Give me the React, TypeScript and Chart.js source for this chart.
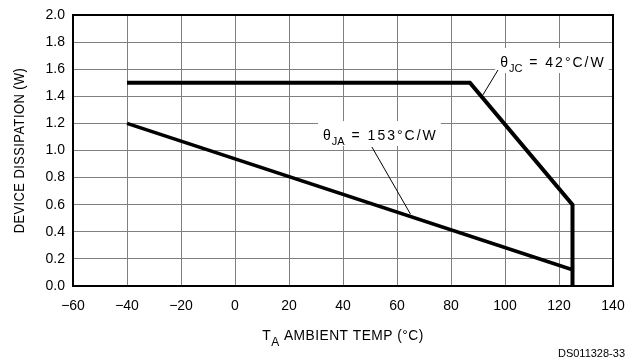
import React, { useEffect, useRef } from 'react';
import { Chart, registerables } from 'chart.js';

Chart.register(...registerables);

// ---- Data ----
const jcTemp = [-40, 87, 125, 125];
const jcPower = [1.5, 1.5, 0.6, 0];
const jaTemp = [-40, 125];
const jaPower = [1.2, 0.12];

const xTickValues = [-60, -40, -20, 0, 20, 40, 60, 80, 100, 120, 140];
const yTickValues = [0, 0.2, 0.4, 0.6, 0.8, 1.0, 1.2, 1.4, 1.6, 1.8, 2.0];

const yTitle = 'DEVICE DISSIPATION (W)';
const xTitleMain = 'T';
const xTitleSub = 'A';
const xTitleRest = ' AMBIENT TEMP (°C)';
const footnote = 'DS011328-33';

// annotation labels: text anchor (data coords) and leader line (data coords)
const jcLabel = { sub: 'JC', rest: ' = 42°C/W', x: 98.2, y: 1.616, from: [97.4, 1.594], to: [91.5, 1.4] };
const jaLabel = { sub: 'JA', rest: ' = 153°C/W', x: 32.6, y: 1.077, from: [50.7, 1.026], to: [65.0, 0.53] };
const annotations = [jcLabel, jaLabel];

const FONT = '"Liberation Sans", Arial, Helvetica, sans-serif';

function fmtTick(v: number, digits: number) {
  const s = Math.abs(v).toFixed(digits);
  return v < 0 ? '\u2212' + s : s;
}

function labelWidth(ctx: CanvasRenderingContext2D, a: any) {
  (ctx as any).letterSpacing = '0px';
  ctx.font = `14px ${FONT}`;
  const w1 = ctx.measureText('θ').width + 1;
  ctx.font = `11px ${FONT}`;
  const w2 = ctx.measureText(a.sub).width + 1;
  (ctx as any).letterSpacing = '2px';
  ctx.font = `14px ${FONT}`;
  const w3 = ctx.measureText(a.rest).width;
  (ctx as any).letterSpacing = '0px';
  return [w1, w2, w3];
}

const chartPlugin = {
  id: 'deco',
  beforeDatasetsDraw(chart: any) {
    const ctx: CanvasRenderingContext2D = chart.ctx;
    const xs = chart.scales.x;
    const ys = chart.scales.y;
    const area = chart.chartArea;
    ctx.save();
    // frame
    ctx.strokeStyle = '#000';
    ctx.lineWidth = 2;
    ctx.strokeRect(Math.round(area.left), Math.round(area.top), Math.round(area.right - area.left), Math.round(area.bottom - area.top));
    // white boxes behind annotation text
    for (const a of annotations) {
      const px = xs.getPixelForValue(a.x);
      const py = ys.getPixelForValue(a.y);
      const [w1, w2, w3] = labelWidth(ctx, a);
      const w = w1 + w2 + w3;
      ctx.fillStyle = '#fff';
      ctx.fillRect(px - 5, py - 19, w + 8, 25);
    }
    ctx.restore();
  },
  afterDatasetsDraw(chart: any) {
    const ctx: CanvasRenderingContext2D = chart.ctx;
    const xs = chart.scales.x;
    const ys = chart.scales.y;
    const area = chart.chartArea;
    ctx.save();
    ctx.fillStyle = '#000';
    ctx.strokeStyle = '#000';
    ctx.textBaseline = 'alphabetic';
    ctx.textAlign = 'left';
    for (const a of annotations) {
      const px = xs.getPixelForValue(a.x);
      const py = ys.getPixelForValue(a.y);
      const [w1, w2] = labelWidth(ctx, a);
      (ctx as any).letterSpacing = '0px';
      ctx.font = `14px ${FONT}`;
      ctx.fillText('θ', px, py);
      ctx.font = `11px ${FONT}`;
      ctx.fillText(a.sub, px + w1, py + 5);
      (ctx as any).letterSpacing = '2px';
      ctx.font = `14px ${FONT}`;
      ctx.fillText(a.rest, px + w1 + w2, py);
      (ctx as any).letterSpacing = '0px';
      // leader
      ctx.lineWidth = 1;
      ctx.beginPath();
      ctx.moveTo(xs.getPixelForValue(a.from[0]), ys.getPixelForValue(a.from[1]));
      ctx.lineTo(xs.getPixelForValue(a.to[0]), ys.getPixelForValue(a.to[1]));
      ctx.stroke();
    }

    const sx = 0.92;
    // y title (rotated)
    ctx.save();
    ctx.font = `14px ${FONT}`;
    (ctx as any).letterSpacing = '0.5px';
    const yw = ctx.measureText(yTitle).width * sx;
    ctx.translate(20, (area.top + area.bottom) / 2);
    ctx.rotate(-Math.PI / 2);
    ctx.scale(sx, 1);
    ctx.textBaseline = 'middle';
    ctx.fillText(yTitle, -yw / 2 / sx, 0);
    ctx.restore();

    // x title
    ctx.save();
    (ctx as any).letterSpacing = '0.5px';
    ctx.font = `15px ${FONT}`;
    const wT = ctx.measureText(xTitleMain).width;
    const wR = ctx.measureText(xTitleRest).width;
    ctx.font = `13px ${FONT}`;
    const wA = ctx.measureText(xTitleSub).width;
    const total = (wT + wA + wR) * sx;
    const cx = (area.left + area.right) / 2;
    ctx.translate(cx - total / 2, 340);
    ctx.scale(sx, 1);
    ctx.font = `15px ${FONT}`;
    ctx.fillText(xTitleMain, 0, 0);
    ctx.font = `13px ${FONT}`;
    ctx.fillText(xTitleSub, wT, 6);
    ctx.font = `15px ${FONT}`;
    ctx.fillText(xTitleRest, wT + wA, 0);
    ctx.restore();

    // footnote
    (ctx as any).letterSpacing = '0px';
    ctx.font = `11px Arial, ${FONT}`;
    ctx.textAlign = 'right';
    ctx.fillText(footnote, 625, 357);
    ctx.restore();
  },
};

export default function App() {
  const ref = useRef<HTMLCanvasElement | null>(null);
  useEffect(() => {
    if (!ref.current) return;
    const tickFont = { family: FONT, size: 14 };
    const chart = new Chart(ref.current, {
      type: 'scatter',
      data: {
        datasets: [
          {
            label: 'θJC = 42°C/W',
            data: jcTemp.map((x, i) => ({ x, y: jcPower[i] })),
            showLine: true,
            borderColor: '#000',
            backgroundColor: '#000',
            borderWidth: 4,
            pointRadius: 0,
            borderJoinStyle: 'miter',
            borderCapStyle: 'butt',
            tension: 0,
            fill: false,
          },
          {
            label: 'θJA = 153°C/W',
            data: jaTemp.map((x, i) => ({ x, y: jaPower[i] })),
            showLine: true,
            borderColor: '#000',
            backgroundColor: '#000',
            borderWidth: 3.5,
            pointRadius: 0,
            borderCapStyle: 'butt',
            tension: 0,
            fill: false,
          },
        ],
      },
      options: {
        responsive: false,
        animation: false,
        devicePixelRatio: 1,
        layout: { padding: { left: 0, top: 15, right: 13, bottom: 0 } },
        plugins: { legend: { display: false }, tooltip: { enabled: false } },
        scales: {
          x: {
            type: 'linear',
            min: xTickValues[0],
            max: xTickValues[xTickValues.length - 1],
            afterBuildTicks: (s: any) => {
              s.ticks = xTickValues.map((v) => ({ value: v }));
            },
            afterFit: (s: any) => {
              s.height = 78;
              s.paddingLeft = 0;
              s.paddingRight = 0;
            },
            grid: { color: '#808080', lineWidth: 1, drawTicks: false },
            border: { display: false },
            ticks: {
              padding: 12,
              color: '#000',
              font: tickFont,
              maxRotation: 0,
              autoSkip: false,
              callback: (v: any) => fmtTick(Number(v), 0),
            },
          },
          y: {
            type: 'linear',
            min: yTickValues[0],
            max: yTickValues[yTickValues.length - 1],
            afterBuildTicks: (s: any) => {
              s.ticks = yTickValues.map((v) => ({ value: v }));
            },
            afterFit: (s: any) => {
              s.width = 73;
              s.paddingTop = 0;
              s.paddingBottom = 0;
            },
            grid: { color: '#808080', lineWidth: 1, drawTicks: false },
            border: { display: false },
            ticks: {
              padding: 8,
              color: '#000',
              font: tickFont,
              autoSkip: false,
              callback: (v: any) => fmtTick(Number(v), 1),
            },
          },
        },
      },
      plugins: [chartPlugin],
    } as any);
    return () => chart.destroy();
  }, []);
  return (
    <div style={{ position: 'absolute', left: 0, top: 0, width: 626, height: 364, background: '#fff' }}>
      <canvas ref={ref} width={626} height={364} style={{ display: 'block', width: 626, height: 364 }} />
    </div>
  );
}
